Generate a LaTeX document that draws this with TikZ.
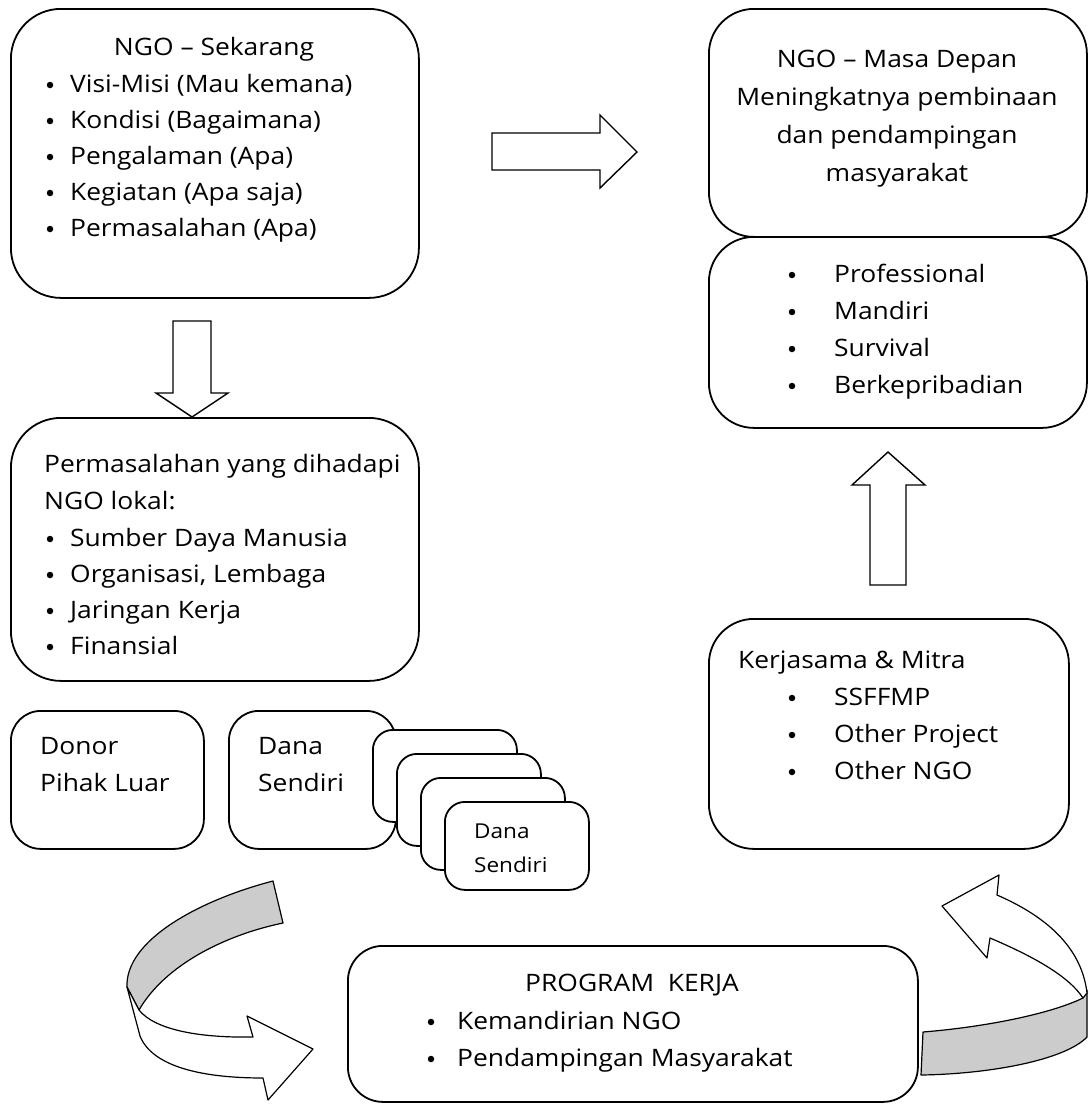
\documentclass[tikz,border=0pt]{standalone}
\usepackage{fontspec}
\setmainfont{Open Sans}[FakeStretch=1.1]
\begin{document}
\begin{tikzpicture}[x=1pt,y=-1pt,
  box/.style={draw, line width=1.8pt, fill=white, rounded corners=#1, anchor=north west, inner sep=0pt},
  txt/.style={inner sep=0pt, anchor=base west, font=\fontsize{24}{28}\selectfont},
  ctxt/.style={inner sep=0pt, anchor=base, font=\fontsize{24}{28}\selectfont},
  stxt/.style={inner sep=0pt, anchor=base west, font=\fontsize{20.5}{24}\selectfont},
  dot/.style={circle, fill=black, inner sep=0pt, minimum size=6.5pt},
  blk/.style={draw, line width=1.4pt, fill=white, line join=miter},
  ribbon/.style={draw, line width=1.2pt, line join=round}]
\useasboundingbox (0,0) rectangle (1088,1109);

% ---------- boxes ----------
\node[box=50pt, minimum width=408pt, minimum height=289pt] (now) at (10,8) {};
\node[box=50pt, minimum width=408pt, minimum height=263pt] (prob) at (10,417) {};
\node[box=45pt, minimum width=378pt, minimum height=228pt] (future) at (708,8) {};
\node[box=45pt, minimum width=378pt, minimum height=191pt] (traits) at (708,236) {};
\node[box=45pt, minimum width=360pt, minimum height=230pt] (mitra) at (708,618) {};
\node[box=30pt, minimum width=193pt, minimum height=138pt] (donor) at (10,710) {};
\node[box=30pt, minimum width=167pt, minimum height=138pt] (dana) at (228,710) {};
\node[box=20pt, minimum width=144pt, minimum height=92pt] (s1) at (372,729) {};
\node[box=20pt, minimum width=144pt, minimum height=92pt] (s2) at (396,753) {};
\node[box=20pt, minimum width=144pt, minimum height=92pt] (s3) at (420,777) {};
\node[box=20pt, minimum width=144pt, minimum height=88pt] (s4) at (444,801) {};
\node[box=35pt, minimum width=570pt, minimum height=156pt] (prog) at (347,945) {};

% ---------- texts (baseline = visual centre + 7) ----------
\node[ctxt] (t1) at (214,55) {NGO – Sekarang};
\foreach \y/\s [count=\i] in {85/Visi-Misi (Mau kemana),121/Kondisi (Bagaimana),157/Pengalaman (Apa),193/Kegiatan (Apa saja),229/Permasalahan (Apa)}{
  \node[dot] (nb\i) at (50,\y) {};
  \node[txt] (ni\i) at (70,\y+7) {\s};
}

\node[txt] (p0) at (44,472) {Permasalahan yang dihadapi};
\node[txt] (p00) at (44,509) {NGO lokal:};
\foreach \y/\s [count=\i] in {539/Sumber Daya Manusia,575/{Organisasi, Lembaga},611/Jaringan Kerja,647/Finansial}{
  \node[dot] (pb\i) at (50,\y) {};
  \node[txt] (pi\i) at (70,\y+7) {\s};
}

\node[ctxt] (f1) at (897,67) {NGO – Masa Depan};
\node[ctxt] (f2) at (897,105) {Meningkatnya pembinaan};
\node[ctxt] (f3) at (897,143) {dan pendampingan};
\node[ctxt] (f4) at (897,181) {masyarakat};

\foreach \y/\s [count=\i] in {275/Professional,312/Mandiri,349/Survival,386/Berkepribadian}{
  \node[dot] (fb\i) at (792,\y) {};
  \node[txt] (fi\i) at (834,\y+7) {\s};
}

\node[txt] (k0) at (738,668) {Kerjasama \& Mitra};
\foreach \y/\s [count=\i] in {698/SSFFMP,735/Other Project,772/Other NGO}{
  \node[dot] (kb\i) at (792,\y) {};
  \node[txt] (ki\i) at (834,\y+7) {\s};
}

\node[txt] (d1) at (40,754) {Donor};
\node[txt] (d2) at (40,791) {Pihak Luar};
\node[txt] (e1) at (258,754) {Dana};
\node[txt] (e2) at (258,791) {Sendiri};
\node[stxt] (g1) at (474,838) {Dana};
\node[stxt] (g2) at (474,872) {Sendiri};

\node[ctxt] (q0) at (632,991) {PROGRAM\ \ KERJA};
\node[dot] (qb1) at (431,1022) {};
\node[txt] (qi1) at (457,1029) {Kemandirian NGO};
\node[dot] (qb2) at (431,1059) {};
\node[txt] (qi2) at (457,1066) {Pendampingan Masyarakat};

% ---------- block arrows ----------
\draw[blk] (492,133) -- (600,133) -- (600,115) -- (637,152) -- (600,188) -- (600,170) -- (492,170) -- cycle;
\draw[blk] (173,321) -- (211,321) -- (211,393) -- (228,393) -- (192,417) -- (156,393) -- (173,393) -- cycle;
\draw[blk] (870,585) -- (906,585) -- (906,485) -- (925,485) -- (888,452) -- (852,485) -- (870,485) -- cycle;

% ---------- curved ribbon arrows ----------
% left
\draw[ribbon, fill=gray!40] (273,881) .. controls (200,900) and (125,940) .. (127,987)
  -- (139,1010) .. controls (165,965) and (225,935) .. (283,923) -- cycle;
\draw[ribbon, fill=white] (127,987) -- (140,1036) .. controls (152,1066) and (200,1078) .. (263,1078)
  -- (268,1100) -- (313,1049) -- (247,1016) -- (253,1037)
  .. controls (200,1038) and (155,1030) .. (139,1010) -- cycle;
% right
\draw[ribbon, fill=gray!40] (923,1032) .. controls (985,1027) and (1050,1014) .. (1083,998)
  -- (1087,990) -- (1087,1037) .. controls (1065,1060) and (990,1074) .. (921,1075) -- cycle;
\draw[ribbon, fill=white] (1087,993) .. controls (1082,950) and (1050,918) .. (997,895)
  -- (999,875) -- (942,906) -- (987,958) -- (990,938)
  .. controls (1030,955) and (1068,975) .. (1083,998) -- cycle;
\end{tikzpicture}
\end{document}
